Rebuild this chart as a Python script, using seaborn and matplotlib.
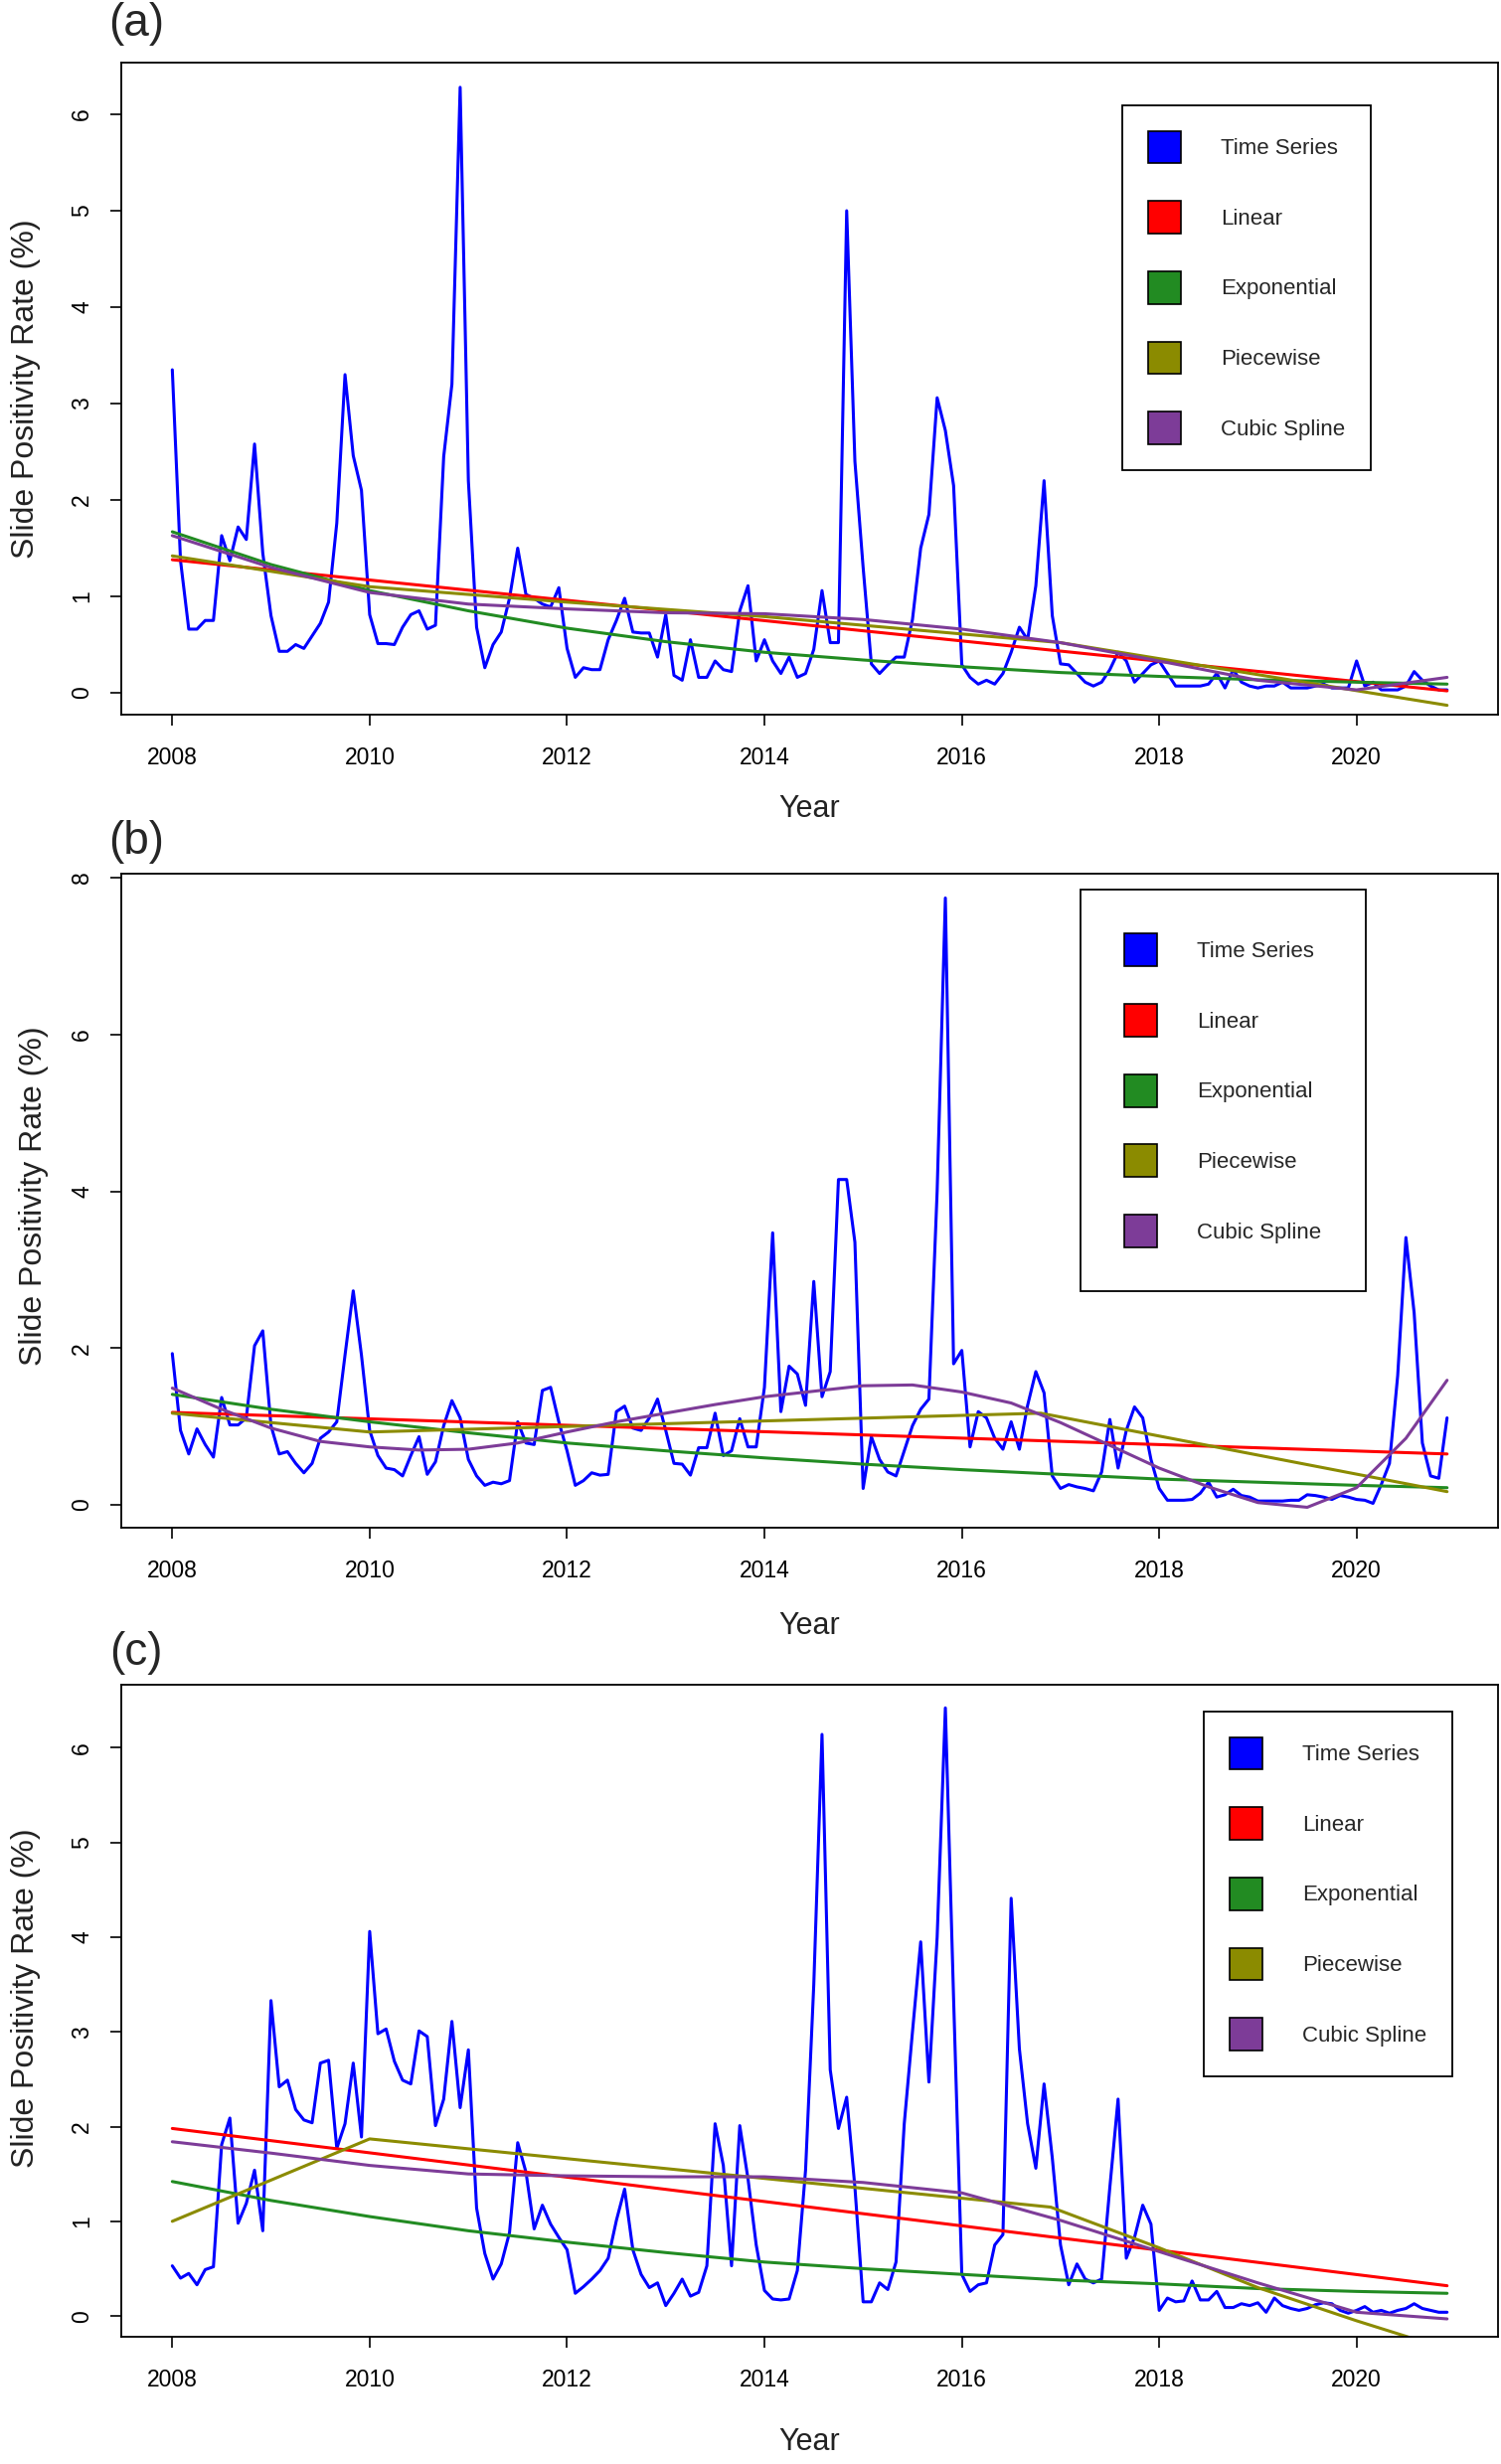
import numpy as np
import pandas as pd
import matplotlib
matplotlib.use("Agg")
import matplotlib.pyplot as plt
from matplotlib.patches import Patch
import seaborn as sns

# ── Data (monthly slide positivity rate, Jan 2008 – Dec 2020) ───────────────
MONTHS = 2008 + np.arange(156) / 12.0
YEARS = [2008, 2009, 2010, 2011, 2012, 2013, 2014, 2015, 2016, 2017, 2018, 2019, 2020, 2020.917]
LIN_X = [2008, 2020.917]

ts_a = [3.35, 1.37, 0.66, 0.66, 0.75, 0.75, 1.63, 1.37, 1.72, 1.59, 2.58, 1.45,
        0.80, 0.43, 0.43, 0.50, 0.46, 0.59, 0.72, 0.94, 1.76, 3.30, 2.46, 2.10,
        0.81, 0.51, 0.51, 0.50, 0.68, 0.81, 0.85, 0.66, 0.70, 2.45, 3.20, 6.28,
        2.20, 0.68, 0.26, 0.50, 0.63, 0.98, 1.50, 1.02, 0.98, 0.92, 0.89, 1.09,
        0.46, 0.16, 0.26, 0.24, 0.24, 0.55, 0.75, 0.98, 0.63, 0.62, 0.62, 0.37,
        0.81, 0.18, 0.13, 0.55, 0.16, 0.16, 0.33, 0.24, 0.22, 0.85, 1.11, 0.33,
        0.55, 0.33, 0.20, 0.37, 0.16, 0.20, 0.45, 1.06, 0.52, 0.52, 5.00, 2.40,
        1.30, 0.30, 0.20, 0.29, 0.37, 0.37, 0.76, 1.50, 1.85, 3.06, 2.72, 2.15,
        0.29, 0.16, 0.09, 0.13, 0.09, 0.20, 0.42, 0.68, 0.55, 1.11, 2.20, 0.80,
        0.30, 0.29, 0.20, 0.11, 0.07, 0.11, 0.24, 0.42, 0.33, 0.11, 0.20, 0.29,
        0.33, 0.20, 0.07, 0.07, 0.07, 0.07, 0.09, 0.20, 0.05, 0.24, 0.11, 0.07,
        0.05, 0.07, 0.07, 0.11, 0.05, 0.05, 0.05, 0.07, 0.09, 0.05, 0.05, 0.05,
        0.33, 0.07, 0.11, 0.03, 0.03, 0.03, 0.07, 0.22, 0.13, 0.07, 0.03, 0.03]

ts_b = [1.93, 0.95, 0.65, 0.97, 0.77, 0.61, 1.37, 1.02, 1.02, 1.11, 2.03, 2.22,
        1.01, 0.65, 0.68, 0.53, 0.41, 0.53, 0.85, 0.93, 1.06, 1.91, 2.73, 1.91,
        0.95, 0.63, 0.47, 0.45, 0.37, 0.63, 0.87, 0.39, 0.55, 1.01, 1.33, 1.11,
        0.58, 0.37, 0.25, 0.29, 0.27, 0.31, 1.06, 0.79, 0.77, 1.46, 1.50, 1.06,
        0.69, 0.25, 0.31, 0.41, 0.38, 0.39, 1.19, 1.26, 0.98, 0.95, 1.11, 1.35,
        0.95, 0.53, 0.52, 0.38, 0.73, 0.73, 1.17, 0.63, 0.69, 1.10, 0.74, 0.74,
        1.50, 3.47, 1.19, 1.77, 1.67, 1.27, 2.85, 1.38, 1.70, 4.15, 4.15, 3.35,
        0.21, 0.87, 0.58, 0.42, 0.37, 0.69, 1.01, 1.22, 1.35, 4.00, 7.74, 1.80,
        1.97, 0.74, 1.19, 1.11, 0.85, 0.71, 1.06, 0.71, 1.27, 1.70, 1.43, 0.37,
        0.21, 0.26, 0.23, 0.21, 0.18, 0.42, 1.09, 0.47, 0.95, 1.25, 1.11, 0.58,
        0.21, 0.06, 0.06, 0.06, 0.07, 0.15, 0.29, 0.10, 0.13, 0.20, 0.12, 0.10,
        0.05, 0.05, 0.05, 0.05, 0.06, 0.06, 0.13, 0.12, 0.10, 0.07, 0.12, 0.10,
        0.07, 0.06, 0.02, 0.26, 0.53, 1.65, 3.41, 2.45, 0.79, 0.37, 0.34, 1.11]

ts_c = [0.53, 0.40, 0.45, 0.33, 0.49, 0.52, 1.81, 2.09, 0.98, 1.19, 1.54, 0.90,
        3.33, 2.42, 2.49, 2.18, 2.07, 2.04, 2.67, 2.70, 1.77, 2.03, 2.67, 1.89,
        4.06, 2.98, 3.03, 2.69, 2.49, 2.45, 3.01, 2.95, 2.01, 2.29, 3.11, 2.20,
        2.81, 1.14, 0.66, 0.39, 0.55, 0.88, 1.83, 1.52, 0.92, 1.17, 0.97, 0.83,
        0.70, 0.24, 0.31, 0.39, 0.48, 0.61, 1.01, 1.34, 0.70, 0.44, 0.30, 0.35,
        0.11, 0.24, 0.39, 0.21, 0.25, 0.53, 2.03, 1.59, 0.53, 2.01, 1.45, 0.75,
        0.27, 0.18, 0.17, 0.18, 0.48, 1.54, 3.50, 6.14, 2.60, 1.98, 2.31, 1.36,
        0.15, 0.15, 0.35, 0.28, 0.57, 2.03, 3.00, 3.95, 2.47, 4.00, 6.42, 3.35,
        0.44, 0.26, 0.33, 0.35, 0.75, 0.86, 4.41, 2.82, 2.03, 1.56, 2.45, 1.67,
        0.75, 0.33, 0.55, 0.39, 0.35, 0.39, 1.36, 2.29, 0.61, 0.83, 1.17, 0.97,
        0.06, 0.19, 0.15, 0.16, 0.37, 0.17, 0.17, 0.26, 0.09, 0.09, 0.13, 0.11,
        0.14, 0.04, 0.19, 0.11, 0.08, 0.06, 0.08, 0.12, 0.14, 0.13, 0.06, 0.03,
        0.06, 0.10, 0.04, 0.06, 0.03, 0.06, 0.08, 0.13, 0.08, 0.06, 0.04, 0.04]

# fitted curves
lin_a = [1.38, 0.02]
exp_a = [1.67, 1.33, 1.06, 0.85, 0.67, 0.53, 0.42, 0.34, 0.27, 0.21, 0.17, 0.135, 0.11, 0.09]
pw_a_x = [2008, 2010, 2012, 2014, 2016, 2017, 2020.917]
pw_a = [1.42, 1.10, 0.94, 0.79, 0.61, 0.52, -0.13]
spl_a = [1.63, 1.30, 1.04, 0.92, 0.87, 0.83, 0.82, 0.76, 0.66, 0.52, 0.33, 0.13, 0.03, 0.16]

lin_b = [1.18, 0.65]
exp_b = [1.41, 1.22, 1.06, 0.92, 0.79, 0.69, 0.60, 0.52, 0.45, 0.39, 0.33, 0.29, 0.25, 0.22]
pw_b_x = [2008, 2010, 2016.8, 2020.917]
pw_b = [1.17, 0.93, 1.17, 0.17]
spl_b_x = [2008, 2008.5, 2009, 2009.5, 2010, 2010.5, 2011, 2011.5, 2012, 2012.5, 2013,
           2013.5, 2014, 2014.5, 2015, 2015.5, 2016, 2016.5, 2017, 2017.5, 2018, 2018.5,
           2019, 2019.5, 2020, 2020.5, 2020.917]
spl_b = [1.49, 1.22, 0.98, 0.81, 0.74, 0.70, 0.71, 0.79, 0.93, 1.06, 1.17,
         1.28, 1.38, 1.45, 1.52, 1.53, 1.44, 1.30, 1.05, 0.76, 0.47, 0.23,
         0.03, -0.03, 0.22, 0.85, 1.59]

lin_c = [1.98, 0.32]
exp_c = [1.42, 1.22, 1.05, 0.90, 0.78, 0.67, 0.57, 0.50, 0.44, 0.38, 0.34, 0.29, 0.26, 0.24]
pw_c_x = [2008, 2010, 2016.9, 2018, 2019, 2020, 2020.917]
pw_c = [1.00, 1.87, 1.15, 0.72, 0.30, -0.05, -0.35]
spl_c = [1.84, 1.72, 1.59, 1.50, 1.48, 1.47, 1.47, 1.41, 1.30, 1.01, 0.68, 0.35, 0.04, -0.03]

LABELS = ["Time Series", "Linear", "Exponential", "Piecewise", "Cubic Spline"]
COLORS = ["#0000FF", "#FF0000", "#228B22", "#8B8B00", "#7D3C98"]
PALETTE = dict(zip(LABELS, COLORS))

# ── Style ────────────────────────────────────────────────────
sns.set_theme(style="white")
plt.rcParams["font.family"] = ["Liberation Sans", "DejaVu Sans"]


def long_frame(ts, lin, exp_, pw_x, pw, spl_x, spl):
    parts = [
        ("Time Series", MONTHS, ts),
        ("Linear", LIN_X, lin),
        ("Exponential", YEARS, exp_),
        ("Piecewise", pw_x, pw),
        ("Cubic Spline", spl_x, spl),
    ]
    frames = [pd.DataFrame({"curve": n, "year": np.asarray(x, float), "rate": y})
              for n, x, y in parts]
    return pd.concat(frames, ignore_index=True)


panels = [
    dict(tag="(a)", df=long_frame(ts_a, lin_a, exp_a, pw_a_x, pw_a, YEARS, spl_a),
         rect=[0.0808, 0.70996, 0.9172, 0.26462], ylim=(-0.227, 6.536),
         yticks=[0, 1, 2, 3, 4, 5, 6], leg=(0.9076, 0.9345), pad=1.15,
         tag_y=0.9903, xlab_y=-0.122, ylab=(-0.0585, 0.499)),
    dict(tag="(b)", df=long_frame(ts_b, lin_b, exp_b, pw_b_x, pw_b, spl_b_x, spl_b),
         rect=[0.0808, 0.38000, 0.9172, 0.26543], ylim=(-0.29, 8.05),
         yticks=[0, 2, 4, 6, 8], leg=(0.904, 0.9757), pad=2.0,
         tag_y=0.6583, xlab_y=-0.128, ylab=(-0.053, 0.508)),
    dict(tag="(c)", df=long_frame(ts_c, lin_c, exp_c, pw_c_x, pw_c, YEARS, spl_c),
         rect=[0.0808, 0.05163, 0.9172, 0.26462], ylim=(-0.219, 6.664),
         yticks=[0, 1, 2, 3, 4, 5, 6], leg=(0.9668, 0.9588), pad=1.15,
         tag_y=0.3292, xlab_y=-0.139, ylab=(-0.0585, 0.52)),
]

fig = plt.figure(figsize=(15.10, 24.79), dpi=100)

for p in panels:
    ax = fig.add_axes(p["rect"])
    sns.lineplot(data=p["df"], x="year", y="rate", hue="curve", hue_order=LABELS,
                 palette=PALETTE, estimator=None, errorbar=None, linewidth=2.2,
                 legend=False, ax=ax)

    ax.set_xlim(2007.483, 2021.433)
    ax.set_ylim(*p["ylim"])
    ax.set_xticks([2008, 2010, 2012, 2014, 2016, 2018, 2020])
    ax.set_yticks(p["yticks"])
    ax.tick_params(axis="both", direction="out", length=8, width=1.2,
                   colors="black", labelsize=16.5, bottom=True, left=True)
    ax.tick_params(axis="x", pad=15)
    ax.tick_params(axis="y", pad=12, labelrotation=90)
    for lab in ax.get_yticklabels():
        lab.set_verticalalignment("center")
    for sp in ax.spines.values():
        sp.set_color("black")
        sp.set_linewidth(1.3)

    ax.set_xlabel("Year", fontsize=22, color="#222222")
    ax.xaxis.set_label_coords(0.5, p["xlab_y"])
    ax.set_ylabel("Slide Positivity Rate (%)", fontsize=23, color="#222222")
    ax.yaxis.set_label_coords(*p["ylab"])

    handles = [Patch(facecolor=c, edgecolor="black", linewidth=1.2, label=l)
               for l, c in zip(LABELS, COLORS)]
    leg = ax.legend(handles=handles, loc="upper right", bbox_to_anchor=p["leg"],
                    borderaxespad=0, fontsize=16, handlelength=1.5, handleheight=1.9,
                    labelspacing=1.7, handletextpad=1.8, borderpad=p["pad"],
                    frameon=True, fancybox=False, framealpha=1)
    leg.get_frame().set_edgecolor("black")
    leg.get_frame().set_linewidth(1.3)

    fig.text(0.0907, p["tag_y"], p["tag"], fontsize=33, ha="center", va="center")

fig.savefig("out.png", dpi=100, facecolor="white")
